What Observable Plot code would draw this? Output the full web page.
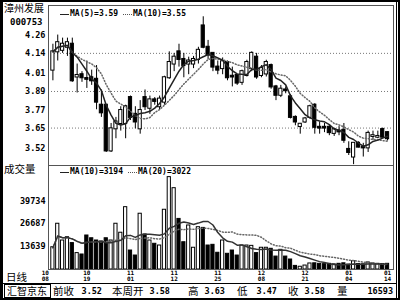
<!DOCTYPE html>
<html>
<head>
<meta charset="utf-8">
<script src="https://cdn.jsdelivr.net/npm/d3@7"></script>
<script src="https://cdn.jsdelivr.net/npm/@observablehq/plot@0.6"></script>
<style>
html, body { margin: 0; padding: 0; background: #fff; }
#chart { position: relative; width: 400px; height: 300px; overflow: hidden; background: #fff; }
#chart > * { position: absolute; left: 0; top: 0; }
.t { white-space: nowrap; line-height: 1; color: #000; }
.cjk { font-family: "Noto Sans CJK SC", sans-serif; font-size: 10.5px; }
.num { font-family: "DejaVu Sans Mono", monospace; font-weight: bold; font-size: 8.5px; }
</style>
</head>
<body>
<div id="chart"></div>
<script>
// ---------- data ----------
const stockName = "漳州发展";
const stockCode = "000753";
const dates = [
"10/08","10/11","10/12","10/13","10/14","10/15","10/18","10/19","10/20","10/21","10/22","10/25","10/26","10/27","10/28","10/29",
"11/01","11/02","11/03","11/04","11/05","11/08","11/09","11/10","11/11","11/12","11/15","11/16","11/17","11/18","11/19","11/22","11/23","11/24","11/25","11/26","11/29","11/30",
"12/01","12/02","12/03","12/06","12/07","12/08","12/09","12/10","12/13","12/14","12/15","12/16","12/17","12/20","12/21","12/22","12/23","12/24","12/27","12/28","12/29","12/30","12/31",
"01/04","01/05","01/06","01/07","01/10","01/11","01/12","01/13","01/14"];
const opens = [4.03,4.15,4.16,4.18,4.20,3.985,4.00,3.975,3.98,3.97,
3.80,3.80,3.50,3.645,3.68,3.68,3.85,3.74,3.645,3.85,
3.78,3.835,3.79,3.82,3.98,4.07,4.15,4.10,4.07,4.07,
4.10,4.32,4.18,4.14,4.05,4.04,4.08,3.99,3.995,3.95,
3.995,4.04,4.115,3.995,4.005,4.06,3.92,3.865,3.90,3.855,
3.72,3.66,3.69,3.72,3.80,3.655,3.655,3.655,3.615,3.63,
3.635,3.51,3.46,3.55,3.525,3.52,3.595,3.59,3.64,3.62];
const highs = [4.20,4.26,4.24,4.24,4.24,4.07,4.02,4.09,4.03,4.06,
3.90,3.80,3.68,3.72,3.79,3.80,3.86,3.79,3.83,3.90,
3.86,3.85,3.86,3.99,4.15,4.14,4.20,4.14,4.115,4.12,
4.18,4.38,4.225,4.14,4.09,4.11,4.09,4.05,4.00,4.03,
4.095,4.15,4.14,4.06,4.095,4.07,3.93,3.93,3.92,3.87,
3.73,3.68,3.72,3.80,3.81,3.69,3.68,3.67,3.65,3.66,
3.68,3.56,3.55,3.56,3.55,3.63,3.63,3.63,3.65,3.625];
const lows = [3.96,4.09,4.14,4.12,3.95,3.88,3.95,3.91,3.93,3.77,
3.72,3.49,3.49,3.58,3.63,3.58,3.70,3.645,3.61,3.765,
3.74,3.80,3.765,3.80,3.97,4.02,4.05,3.98,4.00,4.04,
4.07,4.17,4.10,4.02,4.00,4.00,3.96,3.92,3.93,3.93,
3.985,4.02,3.97,3.98,3.985,3.905,3.83,3.85,3.875,3.71,
3.665,3.61,3.68,3.71,3.61,3.61,3.62,3.60,3.595,3.60,
3.55,3.47,3.41,3.52,3.46,3.49,3.57,3.58,3.585,3.565];
const closes = [4.15,4.21,4.20,4.21,3.96,3.995,3.98,3.97,3.96,3.82,
3.75,3.50,3.645,3.69,3.765,3.79,3.72,3.69,3.765,3.79,
3.835,3.825,3.84,3.98,4.08,4.115,4.10,4.06,4.09,4.10,
4.16,4.18,4.13,4.05,4.03,4.085,3.98,3.985,3.945,4.02,
4.08,4.14,3.985,4.04,4.08,3.92,3.865,3.905,3.895,3.72,
3.69,3.675,3.71,3.79,3.655,3.65,3.65,3.62,3.64,3.625,
3.57,3.49,3.55,3.525,3.52,3.615,3.60,3.595,3.59,3.58];
const volumes = [12600,26200,16500,18400,15000,9200,8400,19400,17800,16500,
15900,17800,16500,26200,21000,35800,10700,7800,32000,20000,
16500,14600,13600,34300,53200,46800,29000,15500,25200,12300,
24200,23800,13600,14000,9400,16500,8800,10700,7800,13600,
13600,13400,9200,12300,12300,11700,7200,11100,7200,5500,
1800,1300,2000,3200,3300,3000,2800,3000,2700,3000,
3300,2600,4500,2900,2700,3800,3200,3000,2900,3000];
const priceTicks = [4.26, 4.14, 4.01, 3.89, 3.77, 3.65, 3.52];
const priceGrid = [4.14, 3.89, 3.65];
const volumeTicks = [39734, 26687, 13639];
const tickDates = ["10/08","10/19","11/01","11/12","11/25","12/08","12/21","01/04","01/14"];
const priceMaWindows = [5, 10];
const priceMaNames = ["MA(5)", "MA(10)"];
const priceMaValues = ["3.59", "3.55"];
const volMaWindows = [10, 20];
const volMaNames = ["MA(10)", "MA(20)"];
const volMaValues = ["3194", "3022"];
const panelLabels = ["成交量", "日线"];
const statusTag = "汇智京东";
const statusLabels = ["前收", "本周开", "高", "低", "收", "量"];
const statusValues = ["3.52", "3.58", "3.63", "3.47", "3.58", "16593"];

// ---------- build ----------
const bars = dates.map((date, i) => ({
  i, date, o: opens[i], h: highs[i], l: lows[i], c: closes[i], v: volumes[i],
  up: closes[i] >= opens[i]
}));
const tickIdx = tickDates.map(d => dates.indexOf(d));
const mono = "DejaVu Sans Mono";
const xDom = [-0.907, 70.23];
const halfW = 0.33;

const price = Plot.plot({
  width: 400, height: 166,
  marginLeft: 48, marginRight: 7, marginTop: 5, marginBottom: 1,
  x: {type: "linear", domain: xDom, axis: null},
  y: {domain: [3.4045, 4.454], axis: null},
  style: {background: "transparent", overflow: "visible"},
  marks: [
    Plot.ruleY(priceGrid, {stroke: "#777", strokeDasharray: "1,2"}),
    Plot.ruleX(bars, {x: "i", y1: "l", y2: "h", stroke: "#000"}),
    Plot.rect(bars, {filter: d => d.up, x1: d => d.i - halfW, x2: d => d.i + halfW, y1: "o", y2: "c",
      insetTop: -0.5, insetBottom: -0.5, fill: "#fff", stroke: "#000"}),
    Plot.rect(bars, {filter: d => !d.up, x1: d => d.i - halfW, x2: d => d.i + halfW, y1: "o", y2: "c",
      insetTop: -0.5, insetBottom: -0.5, fill: "#000", stroke: "#000"}),
    Plot.lineY(bars, Plot.windowY({k: priceMaWindows[1], anchor: "end"}, {x: "i", y: "c", stroke: "#666", strokeDasharray: "1,2"})),
    Plot.lineY(bars, Plot.windowY({k: priceMaWindows[0], anchor: "end"}, {x: "i", y: "c", stroke: "#222"})),
    Plot.frame({stroke: "#555"}),
    Plot.text(priceTicks, {y: d => d, text: d => d.toFixed(2), frameAnchor: "left", textAnchor: "end", dx: -3,
      fontSize: 8.5, fontWeight: "bold", fontFamily: mono, fill: "#000"})
  ]
});

const vol = Plot.plot({
  width: 400, height: 118,
  marginLeft: 48, marginRight: 7, marginTop: 0, marginBottom: 14,
  x: {type: "linear", domain: xDom, axis: null},
  y: {domain: [0, 60220], axis: null},
  style: {background: "transparent", overflow: "visible"},
  marks: [
    Plot.rect(bars, {filter: d => d.up, x1: d => d.i - halfW, x2: d => d.i + halfW, y1: d => 0, y2: "v",
      insetTop: -0.5, fill: "#fff", stroke: "#000"}),
    Plot.rect(bars, {filter: d => !d.up, x1: d => d.i - halfW, x2: d => d.i + halfW, y1: d => 0, y2: "v",
      insetTop: -0.5, fill: "#000", stroke: "#000"}),
    Plot.lineY(bars, Plot.windowY({k: volMaWindows[1], anchor: "end"}, {x: "i", y: "v", stroke: "#666", strokeDasharray: "1,2"})),
    Plot.lineY(bars, Plot.windowY({k: volMaWindows[0], anchor: "end"}, {x: "i", y: "v", stroke: "#333"})),
    Plot.frame({stroke: "#555"}),
    Plot.text(volumeTicks, {y: d => d, text: d => String(d), frameAnchor: "left", textAnchor: "end", dx: -3,
      fontSize: 8.5, fontWeight: "bold", fontFamily: mono, fill: "#000"}),
    // month line
    Plot.text(tickIdx.slice(0, 1), {x: d => d, text: d => dates[d].split("/")[0], frameAnchor: "bottom",
      lineAnchor: "top", textAnchor: "end", dx: -4, dy: 1.5, fontSize: 6, fontWeight: "bold", fontFamily: mono, fill: "#000"}),
    Plot.text(tickIdx.slice(1), {x: d => d, text: d => dates[d].split("/")[0], frameAnchor: "bottom",
      lineAnchor: "top", dy: 1.5, fontSize: 6, fontWeight: "bold", fontFamily: mono, fill: "#000"}),
    // day line
    Plot.text(tickIdx.slice(0, 1), {x: d => d, text: d => dates[d].split("/")[1], frameAnchor: "bottom",
      lineAnchor: "top", textAnchor: "end", dx: -4, dy: 7.3, fontSize: 6, fontWeight: "bold", fontFamily: mono, fill: "#000"}),
    Plot.text(tickIdx.slice(1), {x: d => d, text: d => dates[d].split("/")[1], frameAnchor: "bottom",
      lineAnchor: "top", dy: 7.3, fontSize: 6, fontWeight: "bold", fontFamily: mono, fill: "#000"})
  ]
});

const root = document.getElementById("chart");
root.appendChild(price);
vol.style.top = "165px";
root.appendChild(vol);

function box(left, top, w, h, css) {
  const d = document.createElement("div");
  d.style.cssText = `position:absolute;left:${left}px;top:${top}px;width:${w}px;height:${h}px;box-sizing:border-box;${css}`;
  root.appendChild(d);
  return d;
}
function txt(s, cls, css) {
  const d = document.createElement("div");
  d.className = "t " + cls;
  d.textContent = s;
  d.style.cssText = "position:absolute;" + css;
  root.appendChild(d);
  return d;
}

// outer frame
box(0, 0, 400, 2, "background:#000");
box(0, 0, 3, 300, "background:#000");
box(0, 298, 400, 2, "background:#000");
box(398, 0, 2, 300, "background:#000");
box(396, 0, 1, 300, "background:#000");
// status bar
box(0, 283, 396, 1, "background:#000");
box(4, 284, 47, 14, "border:1px solid #000");

// header
txt(stockName, "cjk", "left:4px;top:2.5px;font-size:10px;");
txt(stockCode, "num", "left:10px;top:17.5px;font-size:9px;");
txt(panelLabels[0], "cjk", "left:4px;top:164px;");
txt(panelLabels[1], "cjk", "left:6px;top:271.5px;");

// legends
function legend(names, values, top, xs) {
  names.forEach((n, k) => {
    const lx = xs[k];
    if (k === 0) box(lx, top + 4, 9, 1, "background:#222");
    else box(lx, top + 4, 9, 1, "border-top:1px dotted #555");
    txt(n + "=" + values[k], "num", `left:${lx + 10}px;top:${top}px;font-size:8px;`);
  });
}
legend(priceMaNames, priceMaValues, 9.5, [60, 123]);
legend(volMaNames, volMaValues, 167.5, [60, 128]);

// status texts
txt(statusTag, "cjk", "left:7px;top:286px;font-size:10px;");
const labelLefts = [53, 112, 188, 237, 288, 337];
const valueRights = [102, 170, 225, 277, 325, 393];
statusLabels.forEach((s, k) => {
  txt(s, "cjk", `left:${labelLefts[k]}px;top:285.5px;`);
  txt(statusValues[k], "num", `right:${400 - valueRights[k]}px;top:286.5px;left:auto;`);
});
</script>
</body>
</html>
